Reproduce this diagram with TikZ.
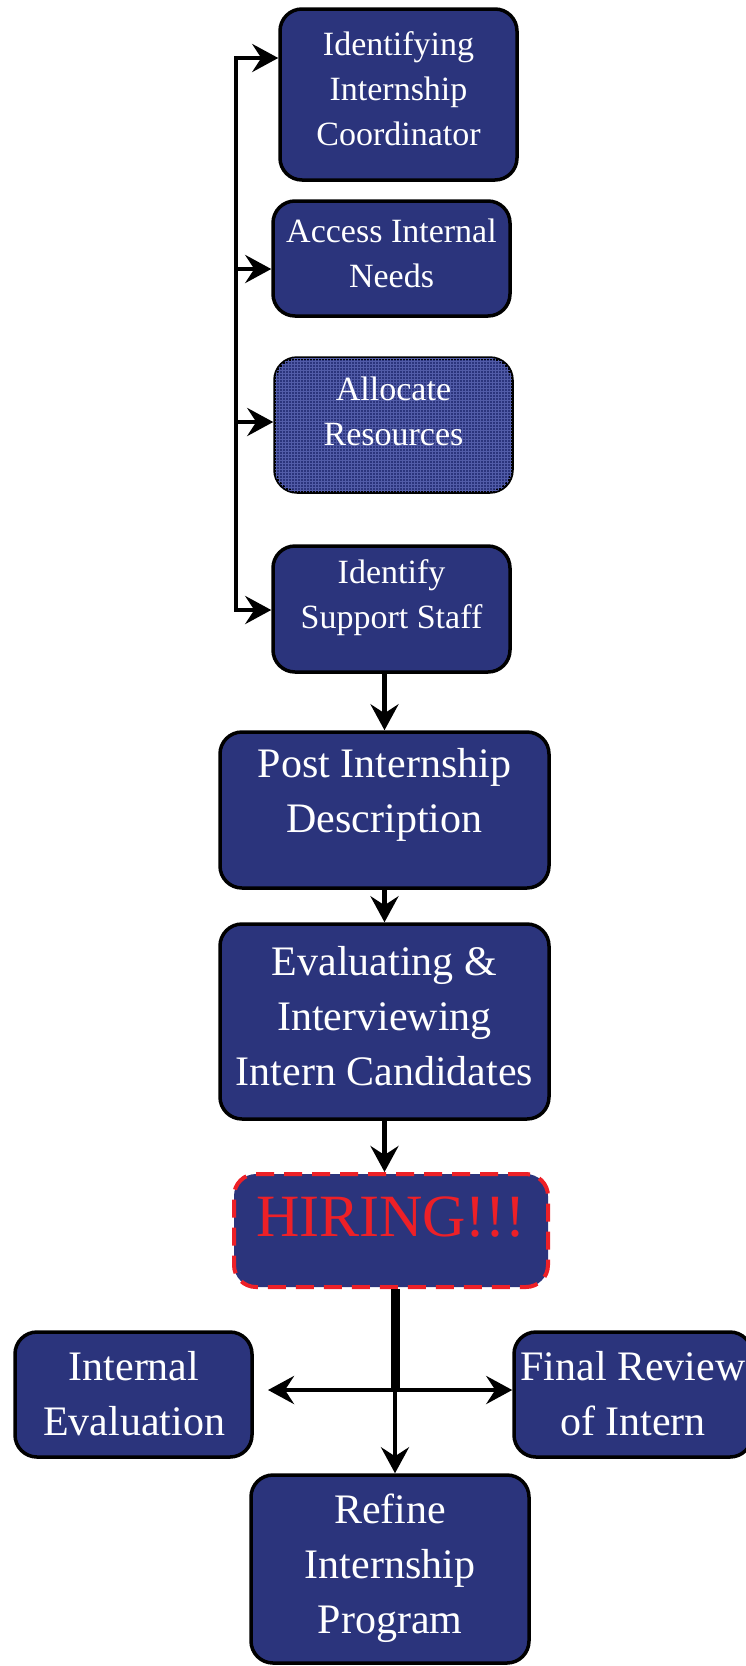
\documentclass[tikz,border=0pt]{standalone}
\usepackage{fontspec}
\setmainfont{Liberation Serif}
\usetikzlibrary{arrows.meta,patterns}
\definecolor{navy}{RGB}{43,52,124}
\definecolor{hred}{RGB}{237,32,39}
\definecolor{gridblue}{RGB}{82,92,168}
\begin{document}
\begin{tikzpicture}[x=1pt,y=-1pt,
  box/.style={draw=black, line width=3.5pt, fill=navy, rounded corners=22pt, inner sep=0pt},
  txt/.style={text=white, align=center, inner sep=0pt},
  smalltxt/.style={txt, font=\fontsize{34}{45}\selectfont},
  bigtxt/.style={txt, font=\fontsize{42}{55}\selectfont},
  conn/.style={line width=4.8pt, line join=miter, -{Stealth[length=26pt,width=28pt,inset=9pt]}},
  dconn/.style={line width=4.8pt, line join=miter, {Stealth[length=26pt,width=28pt,inset=9pt]}-{Stealth[length=26pt,width=28pt,inset=9pt]}},
]
\useasboundingbox (0,0) rectangle (745,1666);

% boxes
\node[box, minimum width=237pt, minimum height=171pt] (b1) at (398.5,94.5) {};
\node[box, minimum width=237pt, minimum height=115pt] (b2) at (391.5,258.5) {};
\node[box, minimum width=237pt, minimum height=134pt,
      postaction={pattern=grid, pattern color=gridblue}] (b3) at (393.5,425) {};
\node[box, minimum width=237pt, minimum height=126pt] (b4) at (391.5,609) {};
\node[box, minimum width=329pt, minimum height=156pt] (b5) at (384.5,810) {};
\node[box, minimum width=329pt, minimum height=195pt] (b6) at (384.5,1021.5) {};
\node[draw=hred, dash pattern=on 18pt off 10pt, line width=4pt, fill=navy,
      rounded corners=22pt, inner sep=0pt, minimum width=314pt, minimum height=113pt]
      (hire) at (391,1230.5) {};
\node[box, minimum width=237pt, minimum height=125pt] (ie) at (133.5,1394.5) {};
\node[box, minimum width=238pt, minimum height=125pt] (fr) at (633,1394.5) {};
\node[box, minimum width=278pt, minimum height=188pt] (rf) at (390,1569) {};

% texts
\node[smalltxt] (b1t) at (398.5,89) {Identifying\\Internship\\Coordinator};
\node[smalltxt] (b2t) at (391.5,253) {Access Internal\\Needs};
\node[smalltxt] (b3t) at (393.5,411) {Allocate\\Resources};
\node[smalltxt] (b4t) at (391.5,598) {Identify\\Support Staff};
\node[bigtxt] (b5t) at (384.5,795) {Post Internship\\Description};
\node[bigtxt] (b6t) at (384.5,1016) {Evaluating \&\\Interviewing\\Intern Candidates};
\node[txt, text=hred, font=\fontsize{60}{60}\selectfont] (hiret) at (391,1217) {HIRING!!!};
\node[bigtxt] (iet) at (134,1394) {Internal\\Evaluation};
\node[bigtxt] (frt) at (633,1394) {Final Review\\of Intern};
\node[bigtxt] (rft) at (390,1568) {Refine\\Internship\\Program};

% trunk
\coordinate (t0) at (236,58);
\coordinate (t2) at (236,269);
\coordinate (t3) at (236,422);
\coordinate (t4) at (236,610);
\draw[dconn] (b4.west|-t4) -- (t4) -- (t0) -- (b1.west|-t0);
\draw[conn] (t2) -- (b2.west|-t2);
\draw[conn] (t3) -- (b3.west|-t3);

% main column
\draw[conn] (b4.south-|b5.north) -- (b5.north);
\draw[conn] (b5.south) -- (b6.north);
\draw[conn] (b6.south) -- (hire.north-|b6.south);

% bottom junction
\coordinate (j) at (395,1390);
\coordinate (jl) at (268,1390);
\draw[line width=9pt] (hire.south-|j) -- (j);
\draw[conn] (j) -- (rf.north-|j);
\draw[dconn] (jl) -- (fr.west|-j);
\end{tikzpicture}
\end{document}
